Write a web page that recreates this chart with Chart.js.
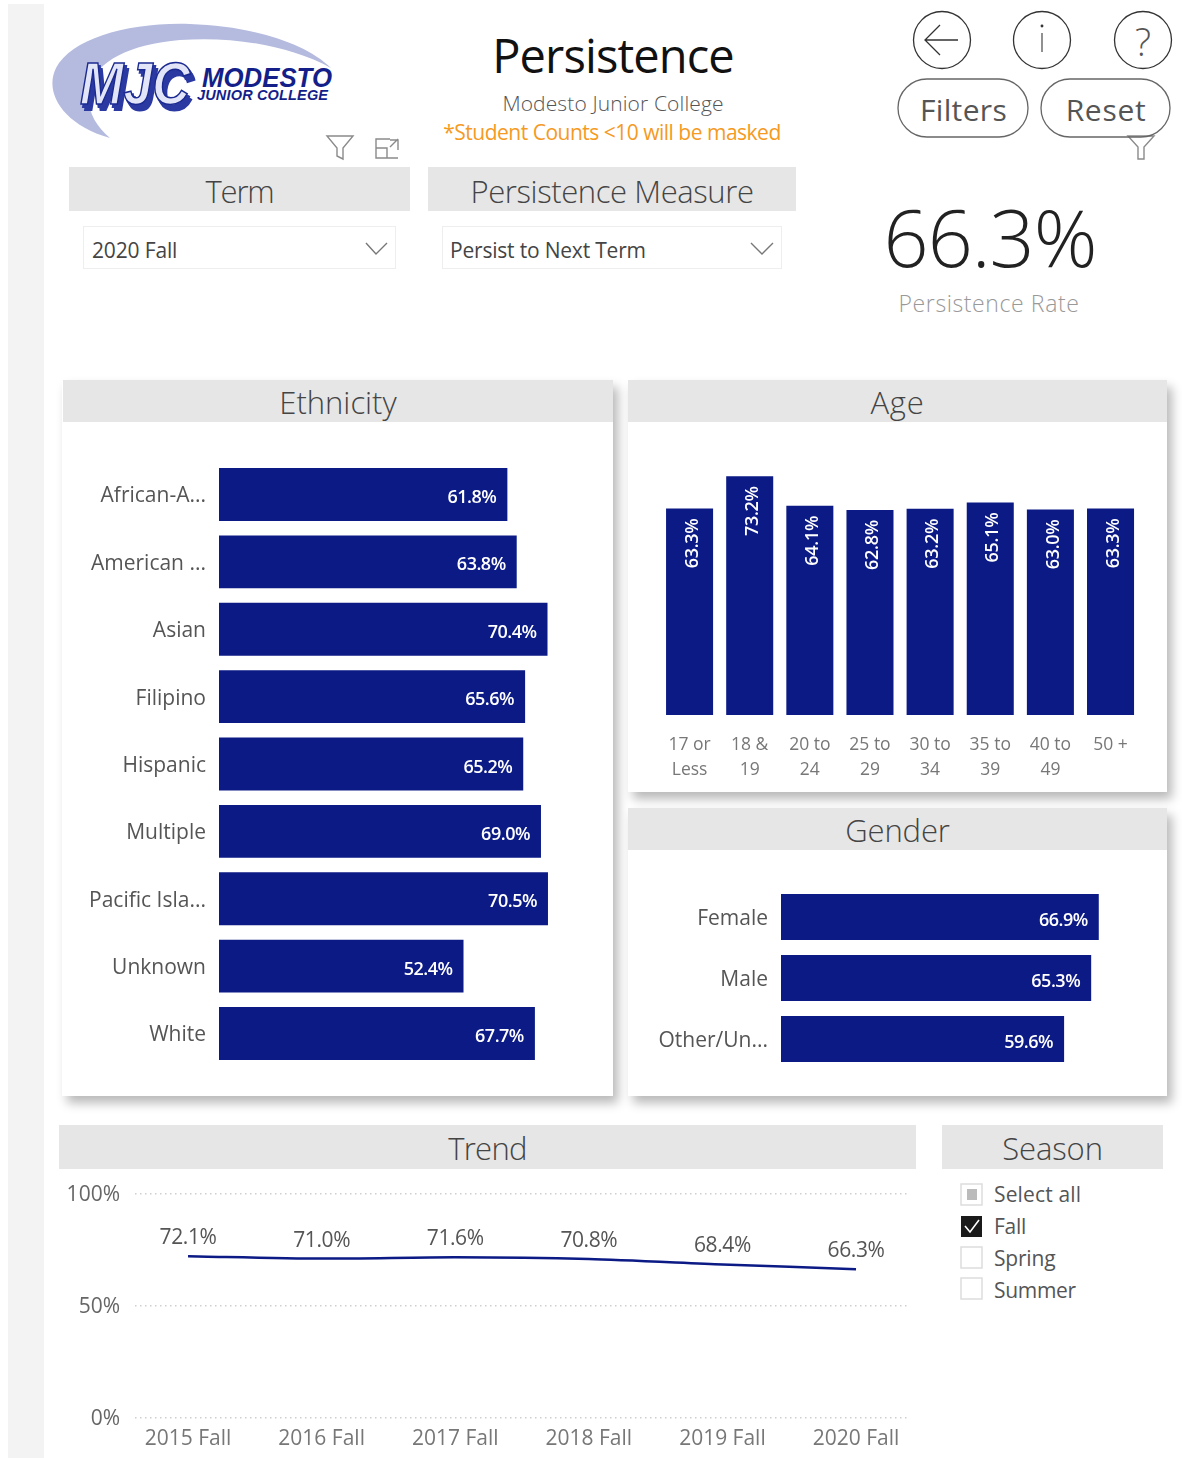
<!DOCTYPE html>
<html><head><meta charset="utf-8">
<script src="https://cdn.jsdelivr.net/npm/chart.js@4"></script>
<style>
html,body{margin:0;padding:0;background:#fff;width:1182px;height:1458px;overflow:hidden;font-family:"Open Sans",sans-serif}
.a{position:absolute}
.t{position:absolute;transform:translate(-50%,-50%);white-space:nowrap;line-height:1}
.l{position:absolute;transform:translateY(-50%);white-space:nowrap;line-height:1}
.hd{position:absolute;background:#e6e6e6;display:flex;align-items:center;justify-content:center;font-weight:300;color:#444;font-size:31px;letter-spacing:-.1px;box-sizing:border-box;padding-top:2px}
.card{position:absolute;background:#fff;box-shadow:5px 7px 10px rgba(0,0,0,.28)}
.dd{position:absolute;background:#fff;border:1px solid #eee;box-sizing:border-box;font-size:21px;color:#444;display:flex;align-items:center;padding:4px 0 0 8px;letter-spacing:-.15px}
canvas{position:absolute;display:block}
</style></head><body>
<div class="a" style="left:8px;top:4px;width:36px;height:1454px;background:#f3f3f3"></div>

<div class="card" style="left:62px;top:380px;width:551px;height:716px"></div>
<div class="card" style="left:628px;top:380px;width:539px;height:412px"></div>
<div class="card" style="left:628px;top:808px;width:539px;height:288px"></div>

<svg class="a" style="left:0;top:0" width="1182" height="1458" viewBox="0 0 1182 1458" fill="none">
  <path d="M110 138C62 124 44 92 56 68C72 38 130 22 190 24C250 26 305 42 331 68C290 46 235 36 180 40C130 44 96 62 90 86C85 108 94 124 110 138Z" fill="#b5bbdf"/>
  <g font-family="Liberation Sans" font-style="italic" font-weight="700">
    <g font-size="60" fill="#2b3aa2" stroke="#2b3aa2" stroke-width="2">
      <text x="84" y="110" textLength="110" lengthAdjust="spacingAndGlyphs">MJC</text>
      <text x="82" y="107" textLength="110" lengthAdjust="spacingAndGlyphs">MJC</text>
    </g>
    <text x="80" y="104" font-size="60" fill="#e2e5f7" stroke="#1b2a90" stroke-width="1.6" textLength="110" lengthAdjust="spacingAndGlyphs">MJC</text>
    <text x="202" y="87" font-size="28" fill="#141f8a" textLength="130" lengthAdjust="spacingAndGlyphs">MODESTO</text>
    <text x="197" y="100" font-size="14.5" fill="#141f8a" textLength="131" lengthAdjust="spacing">JUNIOR COLLEGE</text>
  </g>
  <g stroke="#8a8a8a" stroke-width="1.4">
    <path d="M327 136H353L343 148V159L337 156V148Z"/>
    <path d="M376 148V158H398M376 148V139H390M376 148H387V158M398 150V140H390M398 139L390 147"/>
    <path d="M1128 136L1154 136L1144 147V159H1138V147Z"/>
  </g>
  <g stroke="#333" stroke-width="1.3">
    <circle cx="942" cy="40" r="28.5"/><circle cx="1042" cy="40" r="28.5"/><circle cx="1143" cy="40" r="28.5"/>
    <path d="M958 40H925M940 25L925 40L940 55"/>
    <path d="M1042 33V52" stroke="#555"/><circle cx="1042" cy="26" r=".8" fill="#555"/>
    <rect x="898" y="79" width="130" height="58" rx="29" stroke="#666"/>
    <rect x="1041" y="79" width="129" height="58" rx="29" stroke="#666"/>
  </g>
  <g>
    <rect x="961" y="1184" width="21" height="21" fill="#fff" stroke="#ddd" stroke-width="1.5"/><rect x="967" y="1189" width="10" height="11" fill="#bbb"/>
    <rect x="961" y="1216" width="21" height="21" fill="#1a1a1a"/><path d="M965 1226L970 1232L979 1220" stroke="#fff" stroke-width="1.6"/>
    <rect x="961" y="1247" width="21" height="21" fill="#fff" stroke="#ddd" stroke-width="1.5"/>
    <rect x="961" y="1278" width="21" height="21" fill="#fff" stroke="#ddd" stroke-width="1.5"/>
  </g>
</svg>

<div class="t" style="left:613px;top:55px;font-size:47px;color:#111;letter-spacing:-.9px">Persistence</div>
<div class="t" style="left:613px;top:103px;font-size:21px;color:#555;font-weight:300;letter-spacing:.12px">Modesto Junior College</div>
<div class="t" style="left:612px;top:132px;font-size:21px;color:#f59a23;letter-spacing:-.5px">*Student Counts &lt;10 will be masked</div>
<div class="t" style="left:1143px;top:41px;font-size:38px;color:#555;font-weight:300">?</div>
<div class="t" style="left:963.5px;top:110px;font-size:30px;color:#555;letter-spacing:.35px">Filters</div>
<div class="t" style="left:1106px;top:110px;font-size:30px;color:#555;letter-spacing:.7px">Reset</div>

<div class="hd" style="left:69px;top:167px;width:341px;height:44px;padding-top:3px;letter-spacing:-1.2px">Term</div>
<div class="hd" style="left:428px;top:167px;width:368px;height:44px;padding-top:3px;letter-spacing:-.4px">Persistence Measure</div>
<div class="dd" style="left:83px;top:226px;width:313px;height:43px">2020 Fall</div>
<div class="dd" style="left:442px;top:226px;width:340px;height:43px;padding-left:7px;letter-spacing:-.2px">Persist to Next Term</div>
<svg class="a" style="left:0;top:0" width="1182" height="300" fill="none"><path d="M366 243L376 254L387 243M751 243L762 254L773 243" stroke="#777" stroke-width="1.4"/></svg>

<div class="t" style="left:990px;top:236px;font-size:79px;color:#222;font-weight:300;letter-spacing:-1px">66.3%</div>
<div class="t" style="left:989px;top:303px;font-size:23px;color:#999;font-weight:300;letter-spacing:.6px">Persistence Rate</div>

<div class="hd" style="left:63px;top:380px;width:550px;height:42px;letter-spacing:0">Ethnicity</div>
<div class="hd" style="left:628px;top:380px;width:539px;height:42px;letter-spacing:.8px">Age</div>
<div class="hd" style="left:628px;top:808px;width:539px;height:42px">Gender</div>
<div class="hd" style="left:59px;top:1125px;width:857px;height:44px;letter-spacing:-.7px">Trend</div>
<div class="hd" style="left:942px;top:1125px;width:221px;height:44px">Season</div>

<canvas id="eth" width="551" height="673" style="left:62px;top:423px"></canvas>
<canvas id="age" width="539" height="369" style="left:628px;top:423px"></canvas>
<canvas id="gen" width="539" height="245" style="left:628px;top:851px"></canvas>
<canvas id="trd" width="857" height="288" style="left:59px;top:1170px"></canvas>

<div class="l" style="left:994px;top:1194px;font-size:21px;color:#555;letter-spacing:.15px">Select all</div>
<div class="l" style="left:994px;top:1226px;font-size:21px;color:#555;letter-spacing:-.3px">Fall</div>
<div class="l" style="left:994px;top:1258px;font-size:21px;color:#555;letter-spacing:-.2px">Spring</div>
<div class="l" style="left:994px;top:1290px;font-size:21px;color:#555;letter-spacing:-.3px">Summer</div>

<script>
const ethnicityLabels = ["African-A...", "American ...", "Asian", "Filipino", "Hispanic", "Multiple", "Pacific Isla...", "Unknown", "White"];
const ethnicityValues = [61.8, 63.8, 70.4, 65.6, 65.2, 69.0, 70.5, 52.4, 67.7];
const ageLabels = [["17 or","Less"], ["18 &","19"], ["20 to","24"], ["25 to","29"], ["30 to","34"], ["35 to","39"], ["40 to","49"], ["50 +"]];
const ageValues = [63.3, 73.2, 64.1, 62.8, 63.2, 65.1, 63.0, 63.3];
const genderLabels = ["Female", "Male", "Other/Un..."];
const genderValues = [66.9, 65.3, 59.6];
const trendLabels = ["2015 Fall", "2016 Fall", "2017 Fall", "2018 Fall", "2019 Fall", "2020 Fall"];
const trendValues = [72.1, 71.0, 71.6, 70.8, 68.4, 66.3];
const yTicks = [0, 50, 100];

const NAVY = "#0b1a85";
const FONT = '"Open Sans", sans-serif';
Chart.defaults.font.family = FONT;
Chart.defaults.animation = false;
Chart.defaults.responsive = false;
Chart.defaults.plugins.legend.display = false;
Chart.defaults.plugins.tooltip.enabled = false;

function labelPlugin(mode){
  return {id:"valueLabels"+mode,
  beforeDraw(chart){
    const shift = mode==="h" ? 2 : mode==="t" ? 1.5 : 0;
    if(shift){
      chart.scales.y.getLabelItems().forEach(it=>{
        if(!it.nudged){ it.options.translation[1]+=shift; it.nudged=true; }
      });
    }
  },
  afterDatasetsDraw(chart){
    const c = chart.ctx, meta = chart.getDatasetMeta(0), vals = chart.data.datasets[0].data;
    c.save();
    meta.data.forEach((el,i)=>{
      if(mode==="h"){
        const v = vals[i];
        c.font = '600 18px '+FONT; c.fillStyle="#fff"; c.textAlign="right"; c.textBaseline="middle";
        c.letterSpacing="-0.5px";
        c.fillText(v.toFixed(1)+"%", el.x-11, el.y+3.5);
      } else if(mode==="v"){
        const v = vals[i];
        c.font = '600 18px '+FONT; c.fillStyle="#fff"; c.textAlign="right"; c.textBaseline="middle";
        c.letterSpacing="-0.3px";
        c.save(); c.translate(el.x+3, el.y+10); c.rotate(-Math.PI/2);
        c.fillText(v.toFixed(1)+"%", 0, 0); c.restore();
      } else {
        c.font = '400 21px '+FONT; c.fillStyle="#555"; c.textAlign="center"; c.textBaseline="middle";
        c.letterSpacing="-0.4px";
        c.fillText(trendValues[i].toFixed(1)+"%", el.x, el.y-18);
      }
    });
    c.restore();
  }};
}

function hbar(id, labels, values, opts){
  new Chart(document.getElementById(id), {
    type:"bar",
    data:{labels, datasets:[{data:values, backgroundColor:NAVY, barPercentage:opts.bar, categoryPercentage:1}]},
    plugins:[labelPlugin("h")],
    options:{
      indexAxis:"y",
      layout:{padding:opts.pad},
      scales:{
        x:{display:false, min:0, max:80},
        y:{
          grid:{display:false, drawTicks:false}, border:{display:false},
          ticks:{padding:13, color:"#555", font:{size:21}, autoSkip:false},
          afterFit(s){ s.width = opts.axis; }
        }
      }
    }
  });
}

hbar("eth", ethnicityLabels, ethnicityValues, {bar:.786, axis:157, pad:{top:37.8,bottom:28.8,left:0,right:20.7}});
hbar("gen", genderLabels, genderValues, {bar:.754, axis:153, pad:{top:35.5,bottom:26.5,left:0,right:6}});

new Chart(document.getElementById("age"), {
  type:"bar",
  data:{labels:ageLabels, datasets:[{data:ageValues, backgroundColor:NAVY, barPercentage:.782, categoryPercentage:1}]},
  plugins:[labelPlugin("v")],
  options:{
    layout:{padding:{top:31,left:31.5,right:26.4,bottom:0}},
    scales:{
      y:{display:false, min:0, max:80},
      x:{
        grid:{display:false, drawTicks:false}, border:{display:false},
        ticks:{padding:18, color:"#777", maxRotation:0, autoSkip:false, font:{size:17.5, lineHeight:1.4}},
        afterFit(s){ s.height = 77; }
      }
    }
  }
});

new Chart(document.getElementById("trd"), {
  type:"line",
  data:{datasets:[{data:trendValues.map((v,i)=>({x:i,y:v})), borderColor:NAVY, borderWidth:2.5, pointRadius:0, tension:.25, fill:false}]},
  plugins:[labelPlugin("t")],
  options:{
    layout:{autoPadding:false, padding:{top:23.5,left:0,right:6,bottom:0}},
    scales:{
      x:{
        type:"linear", min:-0.397, max:5.404,
        grid:{display:false, drawTicks:false}, border:{display:false},
        afterBuildTicks(s){ s.ticks = trendLabels.map((_,i)=>({value:i})); },
        ticks:{padding:8, color:"#777", maxRotation:0, autoSkip:false, font:{size:21}, callback:(v)=>trendLabels[v]},
        afterFit(s){ s.height = 40; s.paddingLeft = 0; s.paddingRight = 0; }
      },
      y:{
        min:0, max:100,
        afterBuildTicks(s){ s.ticks = yTicks.map(v=>({value:v})); },
        grid:{drawTicks:false, color:"#cfcfcf", lineWidth:1.5},
        border:{display:false, dash:[1.5,3.5]},
        ticks:{padding:15, color:"#666", font:{size:21}, callback:(v)=>v+"%"},
        afterFit(s){ s.width = 76; s.paddingTop = 0; s.paddingBottom = 0; }
      }
    }
  }
});
</script>
</body></html>
